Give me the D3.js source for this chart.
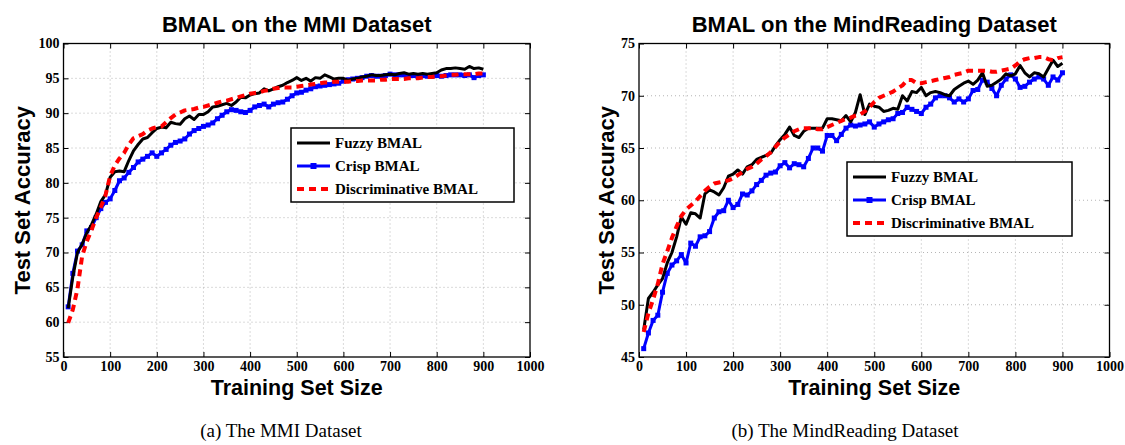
<!DOCTYPE html>
<html>
<head>
<meta charset="utf-8">
<script src="https://cdn.jsdelivr.net/npm/d3@7"></script>
<style>
  body { margin: 0; background: #fff; }
  svg { display: block; }
  .title, .alabel { font-family: "Liberation Sans", Arial, sans-serif; font-weight: bold; }
  .tick text { font-family: "Liberation Serif", "Times New Roman", serif; font-weight: bold; font-size: 14px; fill: #000; }
  .legend text { font-family: "Liberation Serif", "Times New Roman", serif; font-weight: bold; font-size: 15px; }
  .caption { font-family: "Liberation Serif", "Times New Roman", serif; font-size: 19px; }
</style>
</head>
<body>
<div id="chart"></div>
<script>
// training set sizes
var sizes = [10,20,30,40,50,60,70,80,90,100,110,120,130,140,150,160,170,180,190,200,
  210,220,230,240,250,260,270,280,290,300,310,320,330,340,350,360,370,380,390,400,
  410,420,430,440,450,460,470,480,490,500,510,520,530,540,550,560,570,580,590,600,
  610,620,630,640,650,660,670,680,690,700,710,720,730,740,750,760,770,780,790,800,
  810,820,830,840,850,860,870,880,890,900];

var xTicks = [0,100,200,300,400,500,600,700,800,900,1000];
var mmiYTicks = [55,60,65,70,75,80,85,90,95,100];
var mrYTicks = [45,50,55,60,65,70,75];
var seriesNames = ["Fuzzy BMAL", "Crisp BMAL", "Discriminative BMAL"];

// MMI dataset
var mmiFuzzy = [62.0,66.5,70.0,71.2,72.8,74.0,75.5,77.3,78.3,80.8,81.6,81.7,81.6,83.2,84.6,85.5,86.3,86.5,87.2,87.8,
  88.0,87.9,88.7,88.5,88.4,89.2,89.6,89.1,89.8,89.8,90.2,90.9,91.0,91.2,91.4,91.1,91.6,92.3,92.2,92.6,
  92.8,92.9,93.5,93.2,93.5,93.8,94.0,94.4,94.7,95.1,94.7,95.0,94.6,95.1,95.0,95.5,95.2,94.9,95.0,95.0,
  94.7,94.9,95.0,95.2,95.3,95.5,95.4,95.4,95.5,95.6,95.5,95.7,95.8,95.6,95.7,95.6,95.7,95.6,95.7,95.8,
  96.2,96.4,96.4,96.5,96.4,96.3,96.7,96.4,96.5,96.3];
var mmiCrisp = [62.2,67.0,70.2,71.1,73.1,73.6,75.0,76.3,77.2,77.7,78.9,80.3,80.7,81.5,82.2,83.0,83.4,83.8,84.3,83.8,
  84.3,84.8,85.4,85.8,86.0,86.3,87.0,87.5,87.8,88.1,88.3,88.6,89.2,89.7,90.2,90.5,90.4,90.2,90.1,90.4,
  90.9,91.1,91.3,90.9,91.3,91.5,91.6,92.0,92.5,92.9,93.0,93.3,93.5,93.8,93.9,94.0,94.1,94.2,94.3,94.6,
  94.8,94.9,95.0,95.1,95.3,95.4,95.3,95.3,95.4,95.6,95.5,95.5,95.5,95.4,95.4,95.3,95.4,95.3,95.3,95.4,
  95.3,95.4,95.5,95.5,95.5,95.4,95.5,95.1,95.4,95.5];
var mmiDisc = [59.9,61.8,64.8,69.5,71.6,73.2,75.0,76.5,78.2,81.0,82.5,83.5,84.3,85.5,86.4,86.7,87.0,87.5,87.8,88.0,
  88.1,88.7,89.3,89.8,90.1,90.4,90.5,90.6,90.8,90.9,91.1,91.3,91.5,91.7,91.8,92.0,92.2,92.4,92.6,92.8,
  92.9,93.0,93.2,93.3,93.5,93.6,93.7,93.7,93.7,93.8,93.9,94.0,94.1,94.2,94.3,94.4,94.4,94.5,94.5,94.5,
  94.5,94.6,94.6,94.7,94.7,94.7,94.7,94.8,94.8,94.9,94.9,94.9,94.9,95.0,95.0,95.0,95.1,95.2,95.2,95.3,
  95.3,95.4,95.5,95.5,95.6,95.6,95.6,95.6,95.7,95.7];

// MindReading dataset
var mrFuzzy = [47.6,50.6,51.2,51.9,52.5,54.0,55.0,56.5,58.4,57.7,58.8,58.7,58.3,60.6,61.0,60.8,60.5,61.2,62.3,62.5,
  62.9,62.5,63.2,63.4,63.9,64.1,64.3,64.5,65.2,65.8,66.3,67.0,66.2,66.0,66.6,66.9,66.9,66.9,66.9,67.8,
  67.8,67.7,67.6,68.1,67.5,68.4,70.1,68.2,69.2,69.0,68.9,68.5,68.6,68.8,68.7,70.0,69.5,70.4,70.3,70.8,
  70.0,70.3,70.4,70.3,70.1,70.0,70.6,70.9,71.2,71.4,71.1,71.5,72.2,70.9,71.0,71.3,71.6,72.1,71.9,72.1,
  72.9,72.2,71.8,72.2,72.1,71.8,72.6,73.4,72.8,73.1];
var mrCrisp = [45.8,47.3,48.5,49.0,51.2,53.0,53.8,54.2,54.8,54.0,55.9,55.6,56.5,56.6,57.0,58.3,58.9,59.0,60.0,59.3,
  59.6,60.6,60.5,60.9,61.5,61.9,62.4,62.6,62.7,63.3,63.6,63.1,63.5,63.4,63.2,64.0,65.0,65.0,64.7,66.2,
  66.2,65.7,66.3,66.9,67.2,67.1,67.2,67.3,67.5,67.0,67.3,67.5,67.7,67.8,68.3,68.4,68.9,68.7,68.5,68.3,
  68.9,69.2,69.8,70.0,70.0,69.8,69.4,69.7,69.4,69.7,70.5,70.6,71.5,71.3,70.7,70.0,71.0,71.6,72.0,71.6,
  70.8,70.9,71.3,71.6,71.8,71.6,71.0,71.8,71.5,72.2];
var mrDisc = [47.4,49.2,50.5,52.0,53.9,55.1,56.4,57.5,58.5,59.1,59.5,59.9,60.4,60.9,61.3,61.6,61.7,61.8,61.9,62.1,
  62.4,62.7,63.0,63.2,63.5,63.9,64.2,64.6,65.1,65.6,66.0,66.3,66.6,66.8,66.9,66.9,66.9,66.8,66.8,67.0,
  67.2,67.4,67.6,67.8,67.9,68.1,68.2,68.5,68.9,69.4,69.8,70.0,70.2,70.4,70.7,71.0,71.5,71.5,71.2,71.2,
  71.3,71.4,71.5,71.6,71.7,71.8,72.0,72.1,72.2,72.4,72.4,72.4,72.4,72.4,72.3,72.3,72.4,72.5,72.6,72.9,
  73.3,73.5,73.6,73.6,73.7,73.7,73.5,73.4,73.6,73.7];

var W = 1125, H = 445;
var svg = d3.select("#chart").append("svg")
  .attr("width", W)
  .attr("height", H);

var styles = [
  { color: "#000000", width: 3, dash: null, marker: false },
  { color: "#0000ff", width: 3, dash: null, marker: true },
  { color: "#ff0000", width: 4, dash: "7,5", marker: false }
];

function panel(cfg) {
  var x = d3.scaleLinear().domain([0, 1000]).range([cfg.left, cfg.right]);
  var y = d3.scaleLinear().domain(cfg.yDomain).range([cfg.bottom, cfg.top]);
  var g = svg.append("g");

  // dotted grid
  g.append("g").selectAll("line.gx")
    .data(xTicks.slice(1, -1))
    .enter().append("line")
    .attr("x1", function(d) { return x(d); })
    .attr("x2", function(d) { return x(d); })
    .attr("y1", cfg.top).attr("y2", cfg.bottom)
    .attr("stroke", "#b5b5b5").attr("stroke-width", 1).attr("stroke-dasharray", "1,3");
  g.append("g").selectAll("line.gy")
    .data(cfg.yTicks.slice(1, -1))
    .enter().append("line")
    .attr("y1", function(d) { return y(d); })
    .attr("y2", function(d) { return y(d); })
    .attr("x1", cfg.left).attr("x2", cfg.right)
    .attr("stroke", "#b5b5b5").attr("stroke-width", 1).attr("stroke-dasharray", "1,3");

  // axes with labels
  g.append("g")
    .attr("transform", "translate(0," + cfg.bottom + ")")
    .call(d3.axisBottom(x).tickValues(xTicks).tickSize(-5).tickPadding(4).tickFormat(d3.format("d")))
    .call(function(a) { a.select(".domain").remove(); a.selectAll("line").attr("stroke", "#000"); });
  g.append("g")
    .attr("transform", "translate(" + cfg.left + ",0)")
    .call(d3.axisLeft(y).tickValues(cfg.yTicks).tickSize(-5).tickPadding(4).tickFormat(d3.format("d")))
    .call(function(a) { a.select(".domain").remove(); a.selectAll("line").attr("stroke", "#000"); });
  // top and right ticks
  g.append("g")
    .attr("transform", "translate(0," + cfg.top + ")")
    .call(d3.axisTop(x).tickValues(xTicks).tickSize(-5).tickFormat(""))
    .call(function(a) { a.select(".domain").remove(); a.selectAll("line").attr("stroke", "#000"); });
  g.append("g")
    .attr("transform", "translate(" + cfg.right + ",0)")
    .call(d3.axisRight(y).tickValues(cfg.yTicks).tickSize(-5).tickFormat(""))
    .call(function(a) { a.select(".domain").remove(); a.selectAll("line").attr("stroke", "#000"); });

  // box
  g.append("rect")
    .attr("x", cfg.left).attr("y", cfg.top)
    .attr("width", cfg.right - cfg.left).attr("height", cfg.bottom - cfg.top)
    .attr("fill", "none").attr("stroke", "#000").attr("stroke-width", 1.3);

  var line = d3.line()
    .x(function(d) { return x(d[0]); })
    .y(function(d) { return y(d[1]); });

  // draw crisp first, then fuzzy, then discriminative on top
  [1, 0, 2].forEach(function(i) {
    var pts = sizes.map(function(s, k) { return [s, cfg.series[i][k]]; });
    var st = styles[i];
    g.append("path")
      .datum(pts)
      .attr("fill", "none")
      .attr("stroke", st.color)
      .attr("stroke-width", st.width)
      .attr("stroke-dasharray", st.dash)
      .attr("stroke-linejoin", "round")
      .attr("d", line);
    if (st.marker) {
      g.append("g").selectAll("rect")
        .data(pts)
        .enter().append("rect")
        .attr("x", function(d) { return x(d[0]) - 2.5; })
        .attr("y", function(d) { return y(d[1]) - 2.5; })
        .attr("width", 5).attr("height", 5)
        .attr("fill", st.color);
    }
  });

  // titles
  var cx = (cfg.left + cfg.right) / 2;
  g.append("text").attr("class", "title")
    .attr("x", cx).attr("y", 32)
    .attr("text-anchor", "middle").attr("font-size", 22)
    .text(cfg.title);
  g.append("text").attr("class", "alabel")
    .attr("x", cx).attr("y", 395)
    .attr("text-anchor", "middle").attr("font-size", 21.5)
    .text("Training Set Size");
  g.append("text").attr("class", "alabel")
    .attr("transform", "translate(" + cfg.yLabelX + "," + ((cfg.top + cfg.bottom) / 2) + ") rotate(-90)")
    .attr("text-anchor", "middle").attr("font-size", 22)
    .text("Test Set Accuracy");
  svg.append("text").attr("class", "caption")
    .attr("x", cfg.captionX).attr("y", 437)
    .attr("text-anchor", "middle")
    .text(cfg.caption);

  // legend
  var lg = g.append("g").attr("class", "legend");
  lg.append("rect")
    .attr("x", cfg.legend[0]).attr("y", cfg.legend[1])
    .attr("width", cfg.legend[2]).attr("height", cfg.legend[3])
    .attr("fill", "#fff").attr("stroke", "#000").attr("stroke-width", 1.5);
  seriesNames.forEach(function(name, i) {
    var ly = cfg.legend[1] + 15 + i * 23;
    var lx = cfg.legend[0] + 6;
    var st = styles[i];
    lg.append("line")
      .attr("x1", lx).attr("x2", lx + 33)
      .attr("y1", ly).attr("y2", ly)
      .attr("stroke", st.color).attr("stroke-width", st.width)
      .attr("stroke-dasharray", st.dash);
    if (st.marker) {
      lg.append("rect")
        .attr("x", lx + 16.5 - 3).attr("y", ly - 3)
        .attr("width", 6).attr("height", 6)
        .attr("fill", st.color);
    }
    lg.append("text")
      .attr("x", lx + 38).attr("y", ly + 5)
      .text(name);
  });
}

panel({
  left: 63.5, right: 530, top: 43.5, bottom: 357,
  yDomain: [55, 100], yTicks: mmiYTicks,
  series: [mmiFuzzy, mmiCrisp, mmiDisc],
  title: "BMAL on the MMI Dataset",
  yLabelX: 30,
  caption: "(a)  The MMI Dataset", captionX: 281,
  legend: [291, 128, 223, 74]
});

panel({
  left: 639, right: 1109.5, top: 43.5, bottom: 357,
  yDomain: [45, 75], yTicks: mrYTicks,
  series: [mrFuzzy, mrCrisp, mrDisc],
  title: "BMAL on the MindReading Dataset",
  yLabelX: 614,
  caption: "(b)  The MindReading Dataset", captionX: 845,
  legend: [847, 162, 225, 74]
});
</script>
</body>
</html>
